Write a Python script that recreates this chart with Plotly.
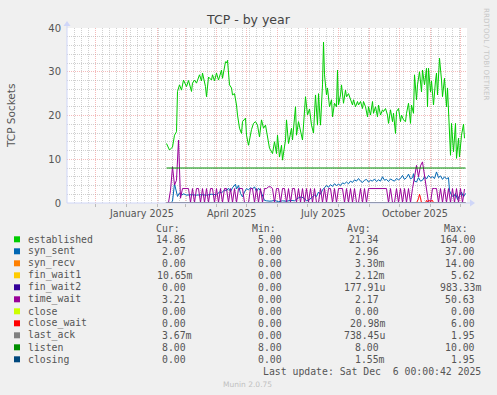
import plotly.graph_objects as go
import pandas as pd

# ---------------- data ----------------
BASE_DATE = "2025-02-10"   # first day with samples

est_day = [0, 3, 6, 8, 10, 11, 13, 15, 17, 20, 22, 25, 26, 28, 30, 33, 35, 36, 39, 40,
           42, 45, 46, 48, 50, 52, 55, 56, 59, 60, 61, 63, 65, 66, 68, 70, 71, 73, 75, 76,
           79, 80, 82, 85, 87, 89, 91, 93, 95, 97, 99, 101, 103, 106, 108, 110, 111, 113, 115, 116,
           119, 120, 122, 125, 126, 129, 130, 132, 135, 136, 139, 141, 143, 145, 147, 149, 151, 152, 154, 156,
           157, 158, 160, 161, 163, 165, 166, 168, 170, 171, 172, 174, 175, 177, 179, 180, 182, 184, 186, 187,
           189, 191, 192, 194, 196, 197, 199, 201, 202, 204, 206, 207, 209, 211, 212, 214, 216, 217, 219, 221,
           222, 224, 226, 227, 229, 230, 232, 234, 235, 237, 239, 240, 242, 244, 245, 247, 248, 250, 251, 253,
           255, 256, 258, 260, 261, 262, 264, 265, 267, 269, 270, 271, 273, 275, 276, 278, 280, 281, 282, 284,
           285, 287, 289, 290, 292, 293, 295, 297, 298]
est_val = [13.6, 12.1, 12.8, 15.5, 16.3, 25.5, 27.0, 25.8, 28.1, 26.6, 28.0, 25.5, 27.4, 28.1, 27.4, 29.3, 27.9, 29.7, 26.6, 24.3,
           28.8, 28.1, 29.3, 27.9, 29.7, 28.1, 30.4, 28.5, 32.3, 32.0, 32.6, 27.0, 26.3, 24.7, 25.0, 22.4, 20.1, 17.1, 15.9, 18.6,
           19.4, 15.5, 13.2, 16.8, 18.2, 18.6, 17.8, 15.1, 19.0, 17.1, 17.8, 14.8, 12.5, 11.3, 14.0, 11.3, 15.5, 10.5, 13.2, 9.8,
           14.4, 19.0, 13.6, 17.1, 14.4, 22.0, 15.5, 18.6, 15.5, 14.4, 24.3, 20.1, 21.5, 17.8, 16.0, 24.7, 17.8, 25.0, 17.8, 27.0,
           36.8, 29.3, 24.7, 26.3, 22.0, 23.6, 19.7, 22.8, 22.0, 30.4, 22.4, 24.7, 27.0, 22.8, 25.8, 24.3, 25.0, 23.6, 22.4, 23.6,
           22.0, 23.2, 22.4, 23.2, 21.6, 23.2, 22.0, 19.7, 22.0, 20.1, 23.2, 20.5, 22.0, 19.7, 22.4, 20.1, 21.3, 20.9, 21.6, 20.1,
           18.2, 21.3, 18.6, 20.5, 15.9, 20.9, 21.6, 18.6, 20.1, 19.0, 18.6, 20.5, 22.8, 18.2, 22.4, 20.5, 29.3, 23.6, 27.0, 30.0,
           25.4, 30.4, 27.0, 30.8, 22.0, 30.8, 25.4, 27.9, 22.4, 27.9, 29.7, 24.7, 33.1, 28.1, 24.3, 28.5, 22.0, 26.3, 21.3, 10.9,
           18.2, 11.7, 18.2, 10.2, 14.8, 10.5, 15.5, 18.0, 14.8]

syn_day = [4, 6, 8, 10, 11, 13, 15, 17, 20, 25, 30, 35, 40, 45, 50, 53, 55, 58, 60, 62,
           64, 66, 68, 69, 70, 72, 74, 76, 78, 80, 82, 84, 86, 88, 90, 92, 94, 96, 98, 100,
           104, 108, 112, 116, 120, 124, 128, 132, 135, 138, 140, 143, 146, 148, 150, 152, 154, 156, 158, 160,
           162, 164, 166, 168, 170, 172, 174, 176, 178, 180, 182, 184, 186, 188, 190, 192, 194, 196, 198, 200,
           202, 204, 206, 208, 210, 212, 214, 216, 218, 220, 222, 224, 226, 228, 230, 232, 234, 236, 238, 240,
           242, 244, 246, 247, 248, 250, 252, 254, 256, 258, 260, 262, 264, 266, 268, 270, 272, 274, 276, 278,
           280, 282, 283, 285, 287, 289, 291, 293, 295, 297, 299]
syn_val = [0.0, 0.4, 4.4, 2.5, 1.5, 2.3, 1.8, 2.1, 1.8, 1.9, 1.8, 1.9, 1.8, 2.0, 1.9, 2.5, 2.3, 3.0, 2.8, 3.4,
           2.6, 3.5, 4.0, 4.3, 3.2, 4.0, 2.2, 1.4, 2.5, 3.3, 3.0, 3.5, 3.2, 3.7, 2.6, 3.4, 2.8, 1.5, 0.6, 0.5,
           0.4, 0.6, 0.3, 0.5, 0.4, 0.6, 0.5, 1.2, 1.4, 1.0, 0.5, 0.8, 1.4, 1.8, 1.5, 2.5, 2.0, 3.0, 3.5, 4.0,
           3.6, 4.2, 3.8, 4.4, 4.0, 4.3, 4.0, 4.6, 4.4, 4.8, 4.4, 5.0, 4.7, 5.3, 5.0, 5.6, 5.0, 4.7, 5.2, 5.4,
           4.8, 5.2, 5.0, 5.5, 4.9, 5.3, 5.0, 6.0, 5.2, 5.4, 4.9, 5.5, 5.2, 5.0, 5.6, 5.3, 5.6, 6.3, 5.4, 5.8,
           6.6, 5.5, 5.8, 6.7, 5.0, 4.8, 5.8, 5.0, 5.2, 6.0, 5.5, 6.3, 5.8, 6.0, 5.6, 7.1, 5.8, 6.2, 5.4, 6.0,
           5.5, 5.8, 2.8, 1.8, 1.4, 2.2, 0.8, 1.5, 2.5, 1.4, 2.2]

# time_wait, one sample every 2 days starting at BASE_DATE
tw_val = [0.1, 0.1, 2.9, 8.3, 4.1, 5.2, 14.4, 1.1, 3.3, 3.3, 3.3, 3.3, 0.1, 3.3, 0.1, 3.3, 3.3, 0.1, 3.3, 0.1,
          3.3, 0.1, 3.3, 3.3, 0.1, 3.3, 0.1, 3.3, 0.1, 3.3, 3.3, 0.1, 3.3, 0.1, 3.3, 0.1, 3.3, 3.3, 3.3, 0.1,
          0.1, 0.1, 3.3, 3.3, 0.1, 3.3, 0.1, 3.3, 0.1, 3.3, 3.3, 3.7, 3.7, 3.3, 0.1, 3.3, 3.3, 0.1, 3.3, 3.3,
          0.1, 3.3, 0.1, 3.3, 3.3, 0.1, 3.3, 0.1, 3.3, 0.1, 3.3, 0.1, 3.3, 0.1, 3.3, 0.1, 0.1, 3.3, 0.1, 3.3,
          0.1, 3.3, 3.3, 0.1, 3.3, 0.1, 3.3, 3.3, 3.3, 0.1, 3.3, 0.1, 3.3, 0.1, 3.3, 0.1, 0.1, 3.3, 0.1, 3.3,
          0.1, 3.3, 3.3, 3.3, 3.3, 3.3, 3.3, 3.3, 3.3, 3.3, 3.3, 0.1, 3.3, 0.1, 0.1, 3.3, 0.1, 3.3, 0.1, 3.3,
          0.1, 3.3, 0.1, 3.3, 6.5, 8.6, 6.0, 8.5, 9.4, 6.5, 3.0, 0.1, 0.1, 3.3, 3.3, 3.3, 0.1, 3.3, 0.1, 3.3,
          0.1, 3.3, 0.1, 3.3, 0.1, 3.3, 0.1, 3.3, 0.1, 3.2]
TW_STEP_DAYS = 2

cw_day = [0, 250, 252, 253, 254, 255, 259, 260, 261, 262, 264, 266, 267, 299]
cw_val = [0, 0, 1.0, 2.0, 1.2, 0, 0, 0.6, 0.3, 0.6, 0.4, 0.6, 0, 0]

flat_day = [0, 299]
listen_val = [8, 8]
zero_val = [0, 0]

series_names = ["established", "syn_sent", "syn_recv", "fin_wait1", "fin_wait2", "time_wait",
                "close", "close_wait", "last_ack", "listen", "closing"]
series_colors = ["#00CC00", "#0066B3", "#FF8000", "#FFCC00", "#330099", "#990099",
                 "#CCFF00", "#FF0000", "#808080", "#008F00", "#00487D"]
cur_txt = ["14.86", "2.07", "0.00", "10.65m", "0.00", "3.21", "0.00", "0.00", "3.67m", "8.00", "0.00"]
min_txt = ["5.00", "0.00", "0.00", "0.00", "0.00", "0.00", "0.00", "0.00", "0.00", "8.00", "0.00"]
avg_txt = ["21.34", "2.96", "3.30m", "2.12m", "177.91u", "2.17", "0.00", "20.98m", "738.45u", "8.00", "1.55m"]
max_txt = ["164.00", "37.00", "14.00", "5.62", "983.33m", "50.63", "0.00", "6.00", "1.95", "10.00", "1.95"]

x_labels = ["January 2025", "April 2025", "July 2025", "October 2025"]
x_label_dates = ["2025-01-16", "2025-04-16", "2025-07-16", "2025-10-16"]

# ---------------- helpers ----------------
base = pd.Timestamp(BASE_DATE)
def to_dates(days):
    return base + pd.to_timedelta(days, unit="D")

W, H = 497, 395
L, R, T, B = 67, 467, 28, 203
def px(x):
    return (x - L) / (R - L)
def py(y):
    return (B - y) / (B - T)

FONT = "DejaVu Sans"
MONO = "DejaVu Sans Mono"
FC = "#555555"

fig = go.Figure()

tw_days = [i * TW_STEP_DAYS for i in range(len(tw_val))]
series_xy = {
    "established": (est_day, est_val),
    "syn_sent": (syn_day, syn_val),
    "syn_recv": (flat_day, zero_val),
    "fin_wait1": (flat_day, zero_val),
    "fin_wait2": (flat_day, zero_val),
    "time_wait": (tw_days, tw_val),
    "close": (flat_day, zero_val),
    "close_wait": (cw_day, cw_val),
    "last_ack": (flat_day, zero_val),
    "listen": (flat_day, listen_val),
    "closing": (flat_day, zero_val),
}
for name, col in zip(series_names, series_colors):
    d, v = series_xy[name]
    fig.add_trace(go.Scatter(x=to_dates(d), y=v, mode="lines", name=name,
                             line=dict(color=col, width=1), hoverinfo="skip"))

grid_major = "rgba(235,130,130,0.55)"
grid_minor = "rgba(170,170,170,0.55)"

fig.update_layout(
    width=W, height=H,
    margin=dict(l=L, r=W - R, t=T, b=H - B),
    paper_bgcolor="#F0F0F0", plot_bgcolor="#FFFFFF",
    showlegend=False,
    xaxis=dict(type="date", range=["2024-11-02 12:00", "2025-12-07 12:00"],
               showticklabels=False, tick0="2024-12-01", dtick="M1",
               showgrid=True, gridcolor=grid_major, griddash="1px,1px", gridwidth=1,
               ticks="outside", ticklen=3, tickcolor="#BBBBBB",
               minor=dict(tick0="2024-11-03", dtick=7 * 86400000, showgrid=True,
                          gridcolor=grid_minor, griddash="1px,1px", ticks=""),
               zeroline=False, showline=False, fixedrange=True),
    yaxis=dict(range=[0, 40], dtick=10, tickfont=dict(family=FONT, size=10, color=FC),
               showgrid=True, gridcolor=grid_major, griddash="1px,1px",
               minor=dict(dtick=2, showgrid=True, gridcolor=grid_minor, griddash="1px,1px"),
               ticks="outside", ticklen=3, tickcolor="rgba(0,0,0,0)",
               zeroline=False, showline=False, fixedrange=True),
)

shapes = []
axis_c = "#CFD6F8"
shapes.append(dict(type="line", xref="paper", yref="paper", x0=0, x1=px(471), y0=0, y1=0,
                   line=dict(color=axis_c, width=1)))
shapes.append(dict(type="line", xref="paper", yref="paper", x0=0, x1=0, y0=0, y1=py(23),
                   line=dict(color=axis_c, width=1)))
shapes.append(dict(type="path", xref="paper", yref="paper",
                   path=f"M {px(470)} {py(199.5)} L {px(475)} {py(203)} L {px(470)} {py(206.5)} Z",
                   fillcolor=axis_c, line=dict(color=axis_c, width=0)))
shapes.append(dict(type="path", xref="paper", yref="paper",
                   path=f"M {px(63.5)} {py(26)} L {px(67)} {py(21)} L {px(70.5)} {py(26)} Z",
                   fillcolor=axis_c, line=dict(color=axis_c, width=0)))

annotations = []
def ann(text, x, y, xanchor="left", size=9.8, family=MONO, color=FC, angle=0, yanchor="middle"):
    annotations.append(dict(text=text, x=px(x), y=py(y), xref="paper", yref="paper",
                            xanchor=xanchor, yanchor=yanchor, showarrow=False, textangle=angle,
                            font=dict(family=family, size=size, color=color)))

ann("TCP - by year", 248, 19, xanchor="center", size=12.5, family=FONT, color="#444444")
ann("TCP Sockets", 11, 116, xanchor="center", size=10.5, family=FONT, color=FC, angle=-90)
ann("RRDTOOL / TOBI OETIKER", 487, 54, xanchor="center", size=7.2, family=FONT, color="#C8C8C8", angle=90)

for lab, d in zip(x_labels, x_label_dates):
    annotations.append(dict(text=lab, x=d, y=py(213), xref="x", yref="paper",
                            xanchor="center", yanchor="middle", showarrow=False,
                            font=dict(family=FONT, size=9.6, color=FC)))

CW = 5.9
ann("Cur:", 181.7, 228, xanchor="right")
ann("Min:", 277.7, 228, xanchor="right")
ann("Avg:", 373.3, 228, xanchor="right")
ann("Max:", 470, 228, xanchor="right")
col_edges = [194.2, 290.0, 386.7, 482.7]
for i, (name, col) in enumerate(zip(series_names, series_colors)):
    yc = 239.3 + 12 * i
    shapes.append(dict(type="rect", xref="paper", yref="paper",
                       x0=px(14), x1=px(20), y0=py(yc + 3), y1=py(yc - 3),
                       fillcolor=col, line=dict(width=0)))
    ann(name, 26, yc, xanchor="left")
    for txt, edge in zip([cur_txt[i], min_txt[i], avg_txt[i], max_txt[i]], col_edges):
        e = edge if txt[-1].isalpha() else edge - CW
        ann(txt, e, yc, xanchor="right")

ann("Last update: Sat Dec  6 00:00:42 2025".replace("  ", "\u00a0\u00a0"), 482.7, 371.3, xanchor="right")
ann("Munin 2.0.75", 247.7, 384, xanchor="center", size=7.5, family=FONT, color="#C0C0C0")

fig.update_layout(shapes=shapes, annotations=annotations)
fig.write_html("out.html", config={"displayModeBar": False, "staticPlot": True},
               post_script="document.body.style.margin='0';document.body.style.overflow='hidden';")
